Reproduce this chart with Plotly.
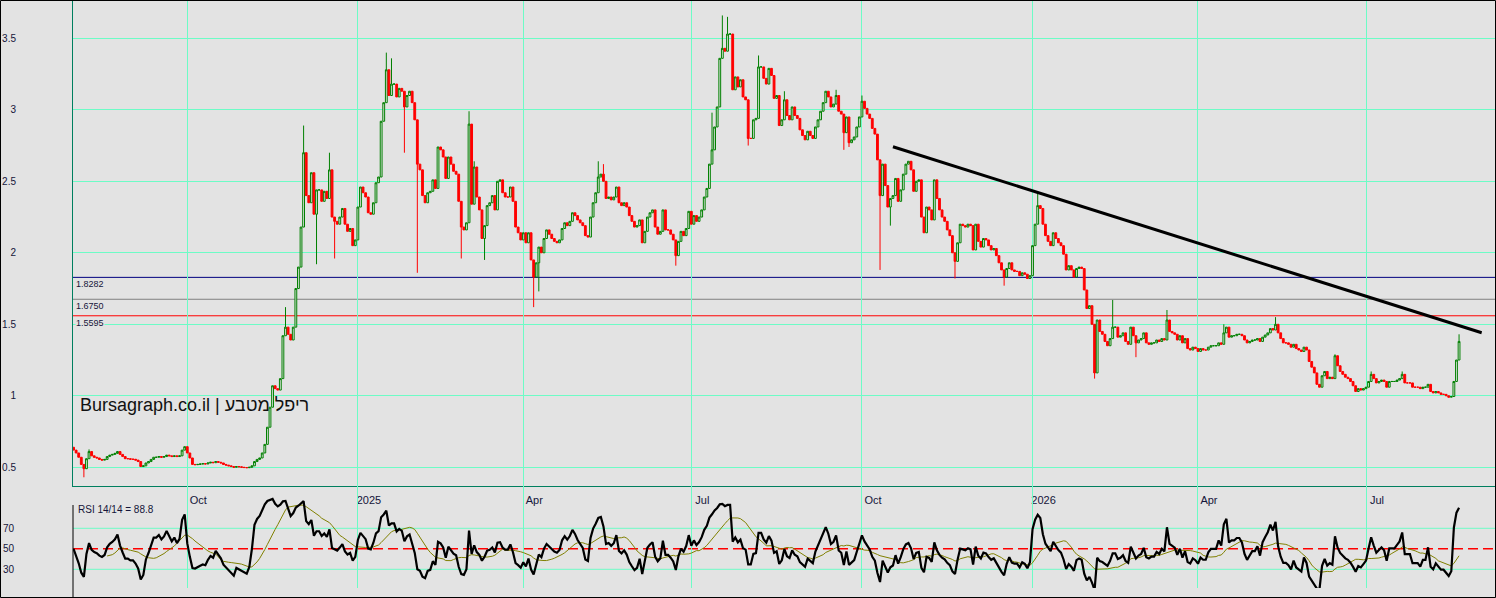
import pandas as pd
import plotly.graph_objects as go

# ---------------- data (daily closes, business days from 2024-07-31) ----------------
close_2024_07 = [0.62]
close_2024_08 = [0.60, 0.57, 0.52, 0.49, 0.56, 0.61, 0.58, 0.57, 0.565, 0.555, 0.55, 0.555, 0.575, 0.585,
                 0.59, 0.597, 0.61, 0.59, 0.575, 0.56, 0.56, 0.556]
close_2024_09 = [0.556, 0.55, 0.54, 0.505, 0.51, 0.53, 0.54, 0.555, 0.57, 0.57, 0.575, 0.57, 0.575, 0.585,
                 0.58, 0.575, 0.58, 0.575, 0.58, 0.62, 0.644]
close_2024_10 = [0.60, 0.565, 0.52, 0.518, 0.52, 0.523, 0.525, 0.523, 0.53, 0.535, 0.532, 0.54, 0.535, 0.53,
                 0.52, 0.515, 0.51, 0.505, 0.50, 0.505, 0.503, 0.50, 0.498]
close_2024_11 = [0.497, 0.50, 0.51, 0.54, 0.555, 0.565, 0.60, 0.66, 0.78, 0.92, 1.07, 1.05, 1.04, 1.12,
                 1.42, 1.48, 1.43, 1.39, 1.48, 1.75, 1.90]
close_2024_12 = [2.18, 2.70, 2.40, 2.35, 2.56, 2.27, 2.44, 2.44, 2.36, 2.43, 2.38, 2.58, 2.25, 2.22,
                 2.20, 2.25, 2.31, 2.20, 2.15, 2.17, 2.05, 2.09]
close_2025_01 = [2.32, 2.46, 2.42, 2.39, 2.28, 2.27, 2.35, 2.49, 2.53, 2.92, 3.05, 3.28, 3.10, 3.18,
                 3.18, 3.09, 3.15, 3.13, 3.02, 3.10, 3.13, 3.05, 2.93]
close_2025_02 = [2.62, 2.58, 2.40, 2.35, 2.42, 2.43, 2.51, 2.45, 2.74, 2.72, 2.67, 2.52, 2.67, 2.62,
                 2.57, 2.55, 2.36, 2.18, 2.16, 2.21]
close_2025_03 = [2.90, 2.34, 2.60, 2.39, 2.30, 2.10, 2.19, 2.33, 2.35, 2.40, 2.30, 2.50, 2.51, 2.42,
                 2.39, 2.39, 2.46, 2.36, 2.18, 2.14, 2.09]
close_2025_04 = [2.14, 2.07, 2.14, 1.95, 1.83, 1.93, 2.04, 2.00, 2.10, 2.16, 2.13, 2.10, 2.08, 2.07,
                 2.09, 2.17, 2.21, 2.19, 2.22, 2.28, 2.26, 2.23]
close_2025_05 = [2.21, 2.19, 2.12, 2.11, 2.25, 2.35, 2.42, 2.53, 2.55, 2.50, 2.38, 2.39, 2.37, 2.39,
                 2.46, 2.35, 2.33, 2.35, 2.32, 2.26, 2.22, 2.18]
close_2025_06 = [2.19, 2.23, 2.07, 2.15, 2.25, 2.28, 2.30, 2.18, 2.13, 2.15, 2.30, 2.16, 2.16, 2.13,
                 2.09, 1.98, 2.08, 2.15, 2.12, 2.17, 2.29]
close_2025_07 = [2.20, 2.26, 2.22, 2.25, 2.30, 2.39, 2.45, 2.62, 2.72, 2.88, 3.02, 3.36, 3.43, 3.41,
                 3.53, 3.53, 3.14, 3.23, 3.16, 3.21, 3.09, 3.07, 2.80]
close_2025_08 = [2.80, 2.93, 2.94, 3.30, 3.30, 3.22, 3.18, 3.29, 3.24, 3.08, 3.10, 2.89, 2.93, 3.07,
                 2.96, 2.93, 3.02, 2.96, 2.94, 2.86, 2.82]
close_2025_09 = [2.79, 2.85, 2.82, 2.80, 2.88, 2.93, 2.99, 3.05, 3.13, 3.09, 3.02, 3.04, 3.10, 2.99,
                 2.97, 2.84, 2.95, 2.77, 2.79, 2.81, 2.88, 2.95]
close_2025_10 = [3.06, 3.01, 2.97, 2.94, 2.87, 2.83, 2.65, 2.40, 2.62, 2.47, 2.32, 2.38, 2.40, 2.52,
                 2.36, 2.44, 2.55, 2.62, 2.64, 2.58, 2.43, 2.50, 2.51]
close_2025_11 = [2.25, 2.14, 2.32, 2.30, 2.23, 2.51, 2.38, 2.30, 2.25, 2.22, 2.16, 2.12, 2.00, 1.94,
                 2.07, 2.20, 2.19, 2.18, 2.20, 2.19]
close_2025_12 = [2.02, 2.20, 2.08, 2.04, 2.10, 2.09, 2.05, 2.02, 2.03, 1.98, 1.93, 1.88, 1.83, 1.89,
                 1.93, 1.88, 1.87, 1.87, 1.84, 1.86, 1.85, 1.82, 1.84]
close_2026_01 = [2.05, 2.20, 2.33, 2.31, 2.20, 2.12, 2.08, 2.05, 2.14, 2.10, 2.07, 2.05, 1.99, 1.88,
                 1.91, 1.88, 1.83, 1.89, 1.90, 1.89, 1.74, 1.61]
close_2026_02 = [1.63, 1.50, 1.16, 1.53, 1.45, 1.43, 1.38, 1.35, 1.40, 1.48, 1.48, 1.41, 1.42, 1.44,
                 1.38, 1.36, 1.48, 1.42, 1.37, 1.39]
close_2026_03 = [1.40, 1.44, 1.37, 1.36, 1.37, 1.37, 1.39, 1.38, 1.40, 1.39, 1.53, 1.45, 1.44, 1.43,
                 1.39, 1.42, 1.37, 1.40, 1.33, 1.32, 1.34, 1.33]
close_2026_04 = [1.31, 1.33, 1.32, 1.32, 1.34, 1.35, 1.35, 1.35, 1.37, 1.36, 1.44, 1.48, 1.41, 1.42,
                 1.42, 1.43, 1.43, 1.42, 1.39, 1.37, 1.38, 1.39]
close_2026_05 = [1.39, 1.40, 1.38, 1.41, 1.425, 1.44, 1.47, 1.46, 1.50, 1.44, 1.40, 1.37, 1.37, 1.36,
                 1.34, 1.36, 1.33, 1.32, 1.31, 1.34, 1.32]
close_2026_06 = [1.24, 1.20, 1.16, 1.08, 1.06, 1.14, 1.17, 1.12, 1.13, 1.12, 1.28, 1.21, 1.17, 1.15,
                 1.13, 1.12, 1.10, 1.07, 1.03, 1.05, 1.04, 1.05]
close_2026_07 = [1.06, 1.10, 1.15, 1.12, 1.09, 1.10, 1.11, 1.10, 1.06, 1.10, 1.10, 1.10, 1.11, 1.12,
                 1.15, 1.09, 1.09, 1.09, 1.06, 1.06, 1.06, 1.05, 1.06]
close_2026_08 = [1.06, 1.08, 1.03, 1.02, 1.03, 1.02, 1.01, 1.01, 1.00, 0.99, 0.995, 1.10, 1.25, 1.38]

first_open = 0.64
first_date = "2024-07-31"

# notable wick extremes (index into the daily series -> price)
spike_low_idx = [4, 94, 101, 128, 133, 150, 159, 178, 180, 233, 261, 298, 300, 312, 316, 341, 360, 395, 411]
spike_low_val = [0.43, 1.92, 1.96, 2.70, 1.86, 1.96, 1.95, 1.62, 1.73, 1.91, 2.75, 2.72, 2.74, 1.88, 2.19,
                 1.82, 1.77, 1.12, 1.27]
spike_high_idx = [6, 82, 89, 99, 121, 123, 153, 155, 203, 205, 247, 251, 253, 265, 275, 295, 305, 373, 402,
                  423, 445, 465, 488, 502, 514, 536]
spike_high_val = [0.625, 1.62, 2.89, 2.70, 3.40, 3.36, 2.99, 2.64, 2.64, 2.62, 2.98, 3.66, 3.65, 3.38, 3.13,
                  3.14, 3.10, 2.42, 1.67, 1.60, 1.50, 1.55, 1.29, 1.17, 1.17, 1.43]

# horizontal levels
level_values = [1.8282, 1.6750, 1.5595]
level_labels = ["1.8282", "1.6750", "1.5595"]
level_colors = ["#000080", "#808080", "#ff0000"]

# trend line
trend_dates = ["2025-10-17", "2026-09-01 18:00"]
trend_prices = [2.742, 1.441]

# axis ticks
x_tick_dates = ["2024-10-01", "2025-01-01", "2025-04-01", "2025-07-01",
                "2025-10-01", "2026-01-01", "2026-04-01", "2026-07-01"]
x_tick_text = ["Oct", "2025", "Apr", "Jul", "Oct", "2026", "Apr", "Jul"]
y_tick_vals = [0.5, 1, 1.5, 2, 2.5, 3, 3.5]
y_tick_text = ["0.5", "1", "1.5", "2", "2.5", "3", "3.5"]
rsi_tick_vals = [30, 50, 70]
rsi_tick_text = ["30", "50", "70"]
rsi_period = 14
signal_period = 14
rsi_label = "RSI 14/14 = 88.8"
watermark = "Bursagraph.co.il | ריפל מטבע"

# ---------------- build series ----------------
monthly = [close_2024_07, close_2024_08, close_2024_09, close_2024_10, close_2024_11, close_2024_12,
           close_2025_01, close_2025_02, close_2025_03, close_2025_04, close_2025_05, close_2025_06,
           close_2025_07, close_2025_08, close_2025_09, close_2025_10, close_2025_11, close_2025_12,
           close_2026_01, close_2026_02, close_2026_03, close_2026_04, close_2026_05, close_2026_06,
           close_2026_07, close_2026_08]
closes = [c for m in monthly for c in m]
dates = pd.bdate_range(first_date, periods=len(closes))
opens = [first_open] + closes[:-1]
highs = [max(o, c) for o, c in zip(opens, closes)]
lows = [min(o, c) for o, c in zip(opens, closes)]
for i, v in zip(spike_low_idx, spike_low_val):
    lows[i] = min(lows[i], v)
for i, v in zip(spike_high_idx, spike_high_val):
    highs[i] = max(highs[i], v)

# RSI: exponential averages of gains / losses, seeded neutral from the first period
alpha = 2 / (rsi_period + 1)
deltas = [0.0] + [closes[i] - closes[i - 1] for i in range(1, len(closes))]
seed = sum(abs(d) for d in deltas[1:rsi_period + 1]) / rsi_period / 2
ag, al = seed, seed
rsi_vals = []
for d in deltas:
    ag = (1 - alpha) * ag + alpha * max(d, 0)
    al = (1 - alpha) * al + alpha * max(-d, 0)
    rsi_vals.append(100 - 100 / (1 + ag / al))
rsi = pd.Series(rsi_vals, index=dates)
signal = rsi.rolling(signal_period, min_periods=signal_period).mean()

# ---------------- styling ----------------
BG = "#e3e3e3"
GRID = "#6dfcc6"
FRAME = "#007f5f"
TXT = "#15153a"
FONT = "Liberation Sans, Arial, sans-serif"
W, H = 1496, 598
L = 73
PW = W - L
main_dom = [1 - 486 / H, 1]
rsi_dom = [1 - 588 / H, 1 - 486 / H]
x_range = ["2024-07-30 19:00", "2026-09-09 07:00"]

fig = go.Figure()
fig.add_trace(go.Candlestick(
    x=dates, open=opens, high=highs, low=lows, close=closes,
    increasing=dict(line=dict(color="#008000", width=1), fillcolor=BG),
    decreasing=dict(line=dict(color="#ff0000", width=1), fillcolor="#ff0000"),
    whiskerwidth=0, showlegend=False, hoverinfo="skip", xaxis="x", yaxis="y"))
fig.add_trace(go.Scatter(x=trend_dates, y=trend_prices, mode="lines",
                         line=dict(color="black", width=3), showlegend=False, hoverinfo="skip",
                         xaxis="x", yaxis="y"))
fig.add_trace(go.Scatter(x=dates, y=signal, mode="lines", line=dict(color="#808000", width=1),
                         showlegend=False, hoverinfo="skip", xaxis="x2", yaxis="y2"))
fig.add_trace(go.Scatter(x=dates, y=rsi, mode="lines", line=dict(color="black", width=2.2),
                         showlegend=False, hoverinfo="skip", xaxis="x2", yaxis="y2"))

shapes = []
for v, c in zip(level_values, level_colors):
    shapes.append(dict(type="line", xref="paper", yref="y", x0=0, x1=1, y0=v, y1=v,
                       line=dict(color=c, width=1), layer="below"))
for v in (70, 30):
    shapes.append(dict(type="line", xref="paper", yref="y2", x0=0, x1=1, y0=v, y1=v,
                       line=dict(color=GRID, width=1), layer="below"))
shapes.append(dict(type="line", xref="paper", yref="y2", x0=0, x1=1, y0=50, y1=50,
                   line=dict(color="#ff0000", width=1.5, dash="10px,5px"), layer="below"))
shapes.append(dict(type="line", xref="paper", yref="paper", x0=0, x1=0, y0=0, y1=1 - 505 / H,
                   line=dict(color="black", width=1)))
shapes.append(dict(type="rect", xref="paper", yref="paper", x0=-(L - 0.5) / PW, x1=1 - 0.5 / PW,
                   y0=0.5 / H, y1=1 - 0.5 / H, line=dict(color="black", width=1)))

annotations = [
    dict(text=watermark, xref="paper", yref="paper", x=5 / PW, y=1 - 405 / H, xanchor="left",
         yanchor="middle", showarrow=False, font=dict(family=FONT, size=18, color="#111111")),
    dict(text=rsi_label, xref="paper", yref="paper", x=3 / PW, y=1 - 509 / H, xanchor="left",
         yanchor="middle", showarrow=False, font=dict(family=FONT, size=10, color=TXT)),
]
for v, t in zip(level_values, level_labels):
    annotations.append(dict(text=t, xref="paper", yref="y", x=1.5 / PW, y=v, xanchor="left",
                            yanchor="top", yshift=-1, showarrow=False, bgcolor=BG, borderpad=0,
                            font=dict(family=FONT, size=9, color=TXT)))

xcommon = dict(type="date", range=x_range, rangebreaks=[dict(bounds=["sat", "mon"])],
               tickvals=x_tick_dates, ticktext=x_tick_text, showgrid=True, gridcolor=GRID,
               gridwidth=1, zeroline=False, rangeslider=dict(visible=False), ticks="")

fig.update_layout(
    width=W, height=H, margin=dict(l=L, r=0, t=0, b=0),
    paper_bgcolor=BG, plot_bgcolor=BG, showlegend=False,
    boxgap=0.3, boxgroupgap=0,
    font=dict(family=FONT, size=10, color=TXT),
    xaxis=dict(**xcommon, domain=[0, 1], anchor="y", showline=True, linecolor=FRAME, linewidth=1,
               showticklabels=True, tickfont=dict(family=FONT, size=11, color=TXT),
               ticklabelstandoff=4, ticklabelshift=11),
    yaxis=dict(domain=main_dom, range=[0.369, 3.768], tickvals=y_tick_vals, ticktext=y_tick_text,
               showgrid=True, gridcolor=GRID, gridwidth=1, zeroline=False, showline=True,
               linecolor=FRAME, linewidth=1, ticks="", ticklabelstandoff=54,
               tickfont=dict(family=FONT, size=10, color=TXT)),
    xaxis2=dict(**xcommon, domain=[0, 1], anchor="y2", matches="x", showticklabels=False,
                showline=False),
    yaxis2=dict(domain=rsi_dom, range=[11.76, 111.27], tickvals=rsi_tick_vals, ticktext=rsi_tick_text,
                showgrid=False, zeroline=False, showline=False, ticks="", ticklabelstandoff=58,
                tickfont=dict(family=FONT, size=10, color=TXT)),
    shapes=shapes, annotations=annotations,
)

fig.write_html("out.html", config={"displayModeBar": False},
               post_script="document.body.style.margin='0px';document.body.style.overflow='hidden';")
